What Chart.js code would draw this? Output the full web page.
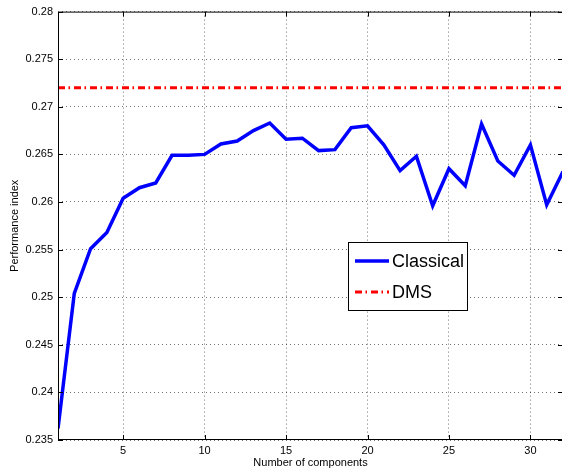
<!DOCTYPE html>
<html>
<head>
<meta charset="utf-8">
<script src="https://cdn.jsdelivr.net/npm/chart.js@4/dist/chart.umd.min.js"></script>
<style>
  html, body { margin: 0; padding: 0; background: #fff; overflow: hidden; }
  #wrap { width: 563px; height: 470px; position: relative; }
</style>
</head>
<body>
<div id="wrap"><canvas id="chart"></canvas></div>
<script>
// Data
const components = [1, 2, 3, 4, 5, 6, 7, 8, 9, 10, 11, 12, 13, 14, 15, 16,
    17, 18, 19, 20, 21, 22, 23, 24, 25, 26, 27, 28, 29, 30, 31, 32];
const classical = [0.2362, 0.2504, 0.2551, 0.2568, 0.2604, 0.2615, 0.2620, 0.2649,
    0.2649, 0.2650, 0.2661, 0.2664, 0.2675, 0.2683, 0.2666, 0.2667,
    0.2654, 0.2655, 0.2678, 0.2680, 0.2660, 0.2633, 0.2648, 0.2596,
    0.2635, 0.2617, 0.2682, 0.2643, 0.2628, 0.2660, 0.2597, 0.2632];
const dmsValue = 0.272;
const xTicks = [5, 10, 15, 20, 25, 30];
const yTicks = [0.235, 0.24, 0.245, 0.25, 0.255, 0.26, 0.265, 0.27, 0.275, 0.28];
const yTickLabels = ['0.235', '0.24', '0.245', '0.25', '0.255', '0.26', '0.265', '0.27', '0.275', '0.28'];

const FONT = 'Liberation Sans, Arial, Helvetica, sans-serif';

// Axes box, inward ticks and the legend box (MATLAB style)
const matlabFrame = {
    id: 'matlabFrame',
    afterDatasetsDraw(chart) {
        const { ctx, chartArea: a, scales: { x, y } } = chart;
        ctx.save();
        ctx.strokeStyle = '#000';
        ctx.lineWidth = 1;
        ctx.beginPath();
        ctx.moveTo(a.left + 0.5, a.bottom);
        ctx.lineTo(a.left + 0.5, a.top + 0.5);
        ctx.lineTo(a.right, a.top + 0.5);
        ctx.moveTo(a.left, a.bottom - 0.5);
        ctx.lineTo(a.right, a.bottom - 0.5);
        ctx.moveTo(a.right - 0.5, a.top);
        ctx.lineTo(a.right - 0.5, a.bottom);
        xTicks.forEach(v => {
            const px = Math.round(x.getPixelForValue(v)) + 0.5;
            ctx.moveTo(px, a.bottom); ctx.lineTo(px, a.bottom - 5);
            ctx.moveTo(px, a.top); ctx.lineTo(px, a.top + 5);
        });
        yTicks.forEach(v => {
            const py = Math.round(y.getPixelForValue(v)) + 0.5;
            ctx.moveTo(a.left, py); ctx.lineTo(a.left + 5, py);
            ctx.moveTo(a.right, py); ctx.lineTo(a.right - 5, py);
        });
        ctx.stroke();

        // legend
        const bx = 348, by = 242, bw = 119, bh = 68;
        ctx.fillStyle = '#fff';
        ctx.fillRect(bx, by, bw, bh);
        ctx.strokeRect(bx + 0.5, by + 0.5, bw, bh);
        ctx.font = '18px ' + FONT;
        ctx.textBaseline = 'middle';
        chart.data.datasets.forEach((ds, i) => {
            const ly = by + 19 + i * 31;
            ctx.save();
            ctx.strokeStyle = ds.borderColor;
            ctx.lineWidth = ds.borderWidth;
            ctx.setLineDash(ds.borderDash || []);
            ctx.beginPath();
            ctx.moveTo(bx + 7, ly);
            ctx.lineTo(bx + 41, ly);
            ctx.stroke();
            ctx.restore();
            ctx.fillStyle = '#000';
            ctx.fillText(ds.label, bx + 44, ly + 1);
        });
        ctx.restore();
    }
};

new Chart(document.getElementById('chart'), {
    type: 'line',
    data: {
        datasets: [
            {
                label: 'Classical',
                data: components.map((c, i) => ({ x: c, y: classical[i] })),
                borderColor: '#0000ff',
                borderWidth: 3.5,
                pointRadius: 0,
                tension: 0
            },
            {
                label: 'DMS',
                data: components.map(c => ({ x: c, y: dmsValue })),
                borderColor: '#ff0000',
                borderWidth: 3,
                borderDash: [7, 3.5, 1.5, 4],
                pointRadius: 0,
                tension: 0
            }
        ]
    },
    options: {
        responsive: true,
        maintainAspectRatio: false,
        animation: false,
        layout: { padding: { top: 10, right: 0, left: 0, bottom: 0 } },
        plugins: {
            legend: { display: false },
            tooltip: { enabled: false }
        },
        scales: {
            x: {
                type: 'linear',
                min: 1,
                max: 32,
                afterBuildTicks: scale => { scale.ticks = xTicks.map(v => ({ value: v })); },
                afterFit: scale => { scale.height = 30; },
                ticks: {
                    padding: 4,
                    color: '#000',
                    font: { family: FONT, size: 11 },
                    maxRotation: 0,
                    callback: v => String(v)
                },
                grid: { color: 'rgba(0,0,0,0.55)', lineWidth: 1, drawTicks: false },
                border: { display: false, dash: [1, 3] },
                title: {
                    display: true,
                    text: 'Number of components',
                    color: '#000',
                    font: { family: FONT, size: 11 },
                    padding: { top: 0, bottom: 0.5 }
                }
            },
            y: {
                type: 'linear',
                min: 0.235,
                max: 0.28,
                afterBuildTicks: scale => { scale.ticks = yTicks.map(v => ({ value: v })); },
                afterFit: scale => { scale.width = 58; },
                ticks: {
                    padding: 5,
                    color: '#000',
                    font: { family: FONT, size: 11 },
                    callback: (v, i) => yTickLabels[i]
                },
                grid: { color: 'rgba(0,0,0,0.55)', lineWidth: 1, drawTicks: false },
                border: { display: false, dash: [1, 3] },
                title: {
                    display: true,
                    text: 'Performance index',
                    color: '#000',
                    font: { family: FONT, size: 11 },
                    padding: { top: 8.5, bottom: 0 }
                }
            }
        }
    },
    plugins: [matlabFrame]
});
</script>
</body>
</html>
